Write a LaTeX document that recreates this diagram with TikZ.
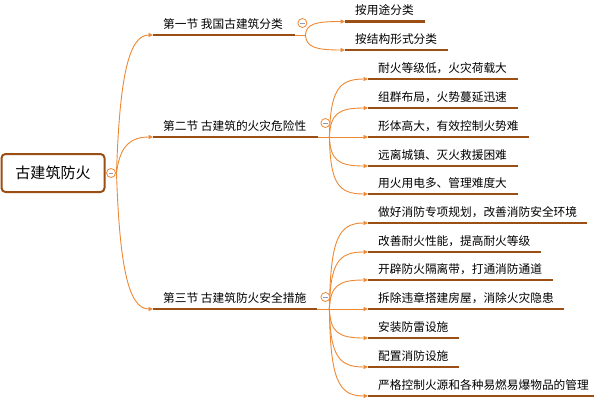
\documentclass[tikz,border=0pt]{standalone}
\usepackage{fontspec}
\setmainfont{Noto Sans CJK SC}
\usetikzlibrary{arrows.meta}
\definecolor{ubrown}{HTML}{9C4F14}
\definecolor{corange}{HTML}{EE8833}
\definecolor{minusc}{HTML}{8C9CC0}
\newcommand\tline[2]{\makebox[#1pt][l]{\hspace*{10pt}#2}}
\begin{document}
\begin{tikzpicture}[x=1pt,y=-1pt,
 topic/.style={anchor=south west, inner sep=0pt, text height=10pt, text depth=6.5pt, font=\fontsize{11.7pt}{14pt}\selectfont},
 uline/.style={draw=ubrown, line width=2.5pt},
 conn/.style={draw=corange, line width=0.9pt, -{Triangle[length=4.5pt,width=4pt]}},
 thinl/.style={draw=corange, line width=0.9pt},
 collapse/.style={circle, draw=corange, fill=white, line width=0.8pt, minimum size=9pt, inner sep=0pt,
   path picture={\draw[minusc, line width=0.8pt] ([xshift=-2.2pt]path picture bounding box.center) -- ([xshift=2.2pt]path picture bounding box.center);}},
 rootbox/.style={draw=ubrown, line width=2pt, rounded corners=4pt, fill=white, minimum width=103pt, minimum height=38pt, inner sep=0pt, font=\fontsize{15pt}{18pt}\selectfont}]
\useasboundingbox (0,0) rectangle (594,400);

% root
\node[rootbox] (root) at (53,173) {古建筑防火};

% sections
\node[topic] (s1) at (153,35) {\tline{142}{第一节 我国古建筑分类}};
\node[topic] (s2) at (153,137) {\tline{165}{第二节 古建筑的火灾危险性}};
\node[topic] (s3) at (153,309) {\tline{164}{第三节 古建筑防火安全措施}};

% section 1 children
\node[topic] (a1) at (345,21.5) {\tline{80}{按用途分类}};
\node[topic] (a2) at (345,50) {\tline{103}{按结构形式分类}};

% section 2 children
\node[topic] (b1) at (368,79) {\tline{150}{耐火等级低，火灾荷载大}};
\node[topic] (b2) at (368,108) {\tline{150}{组群布局，火势蔓延迅速}};
\node[topic] (b3) at (368,137) {\tline{161}{形体高大，有效控制火势难}};
\node[topic] (b4) at (368,166) {\tline{150}{远离城镇、灭火救援困难}};
\node[topic] (b5) at (368,194) {\tline{150}{用火用电多、管理难度大}};

% section 3 children
\node[topic] (c1) at (368,223) {\tline{219}{做好消防专项规划，改善消防安全环境}};
\node[topic] (c2) at (368,252) {\tline{173}{改善耐火性能，提高耐火等级}};
\node[topic] (c3) at (368,280) {\tline{185}{开辟防火隔离带，打通消防通道}};
\node[topic] (c4) at (368,309) {\tline{196}{拆除违章搭建房屋，消除火灾隐患}};
\node[topic] (c5) at (368,338) {\tline{91}{安装防雷设施}};
\node[topic] (c6) at (368,367) {\tline{91}{配置消防设施}};
\node[topic] (c7) at (368,396) {\tline{226}{严格控制火源和各种易燃易爆物品的管理}};

% underlines
\foreach \n in {s1,s2,s3,a1,a2,b1,b2,b3,b4,b5,c1,c2,c3,c4,c5,c6,c7}
  \draw[uline] (\n.south west) -- (\n.south east);

% junctions
\coordinate (j0) at ([xshift=11pt]root.east);
\coordinate (j1) at ([xshift=10pt]s1.south east);
\coordinate (j2) at ([xshift=11pt]s2.south east);
\coordinate (j3) at ([xshift=12pt]s3.south east);

\draw[thinl] (root.east) -- (j0);
\draw[thinl] (s1.south east) -- (j1);
\draw[thinl] (s2.south east) -- (j2);
\draw[thinl] (s3.south east) -- (j3);

% root connectors
\draw[conn] (j0) .. controls +(3,-92) and +(-25,0) .. (s1.south west);
\draw[conn] (j0) .. controls +(3,-24) and +(-25,0) .. (s2.south west);
\draw[conn] (j0) .. controls +(3,91) and +(-25,0) .. (s3.south west);

% section 1 connectors
\draw[conn] (j1) .. controls +(1,-11) and +(-30,0) .. (a1.south west);
\draw[conn] (j1) .. controls +(1,12) and +(-30,0) .. (a2.south west);

% section 2 connectors
\draw[conn] (j2) .. controls +(1,-46) and +(-30,0) .. (b1.south west);
\draw[conn] (j2) .. controls +(1,-23) and +(-30,0) .. (b2.south west);
\draw[conn] (j2) -- (b3.south west);
\draw[conn] (j2) .. controls +(1,23) and +(-30,0) .. (b4.south west);
\draw[conn] (j2) .. controls +(1,46) and +(-30,0) .. (b5.south west);

% section 3 connectors
\draw[conn] (j3) .. controls +(1,-69) and +(-30,0) .. (c1.south west);
\draw[conn] (j3) .. controls +(1,-46) and +(-30,0) .. (c2.south west);
\draw[conn] (j3) .. controls +(1,-23) and +(-30,0) .. (c3.south west);
\draw[conn] (j3) -- (c4.south west);
\draw[conn] (j3) .. controls +(1,23) and +(-30,0) .. (c5.south west);
\draw[conn] (j3) .. controls +(1,46) and +(-30,0) .. (c6.south west);
\draw[conn] (j3) .. controls +(1,70) and +(-30,0) .. (c7.south west);

% collapse markers
\node[collapse] (k0) at ([xshift=5.5pt]root.east) {};
\node[collapse] (k1) at ([xshift=7pt,yshift=12pt]s1.south east) {};
\node[collapse] (k2) at ([xshift=7pt,yshift=14pt]s2.south east) {};
\node[collapse] (k3) at ([xshift=8pt,yshift=12pt]s3.south east) {};
\end{tikzpicture}
\end{document}
